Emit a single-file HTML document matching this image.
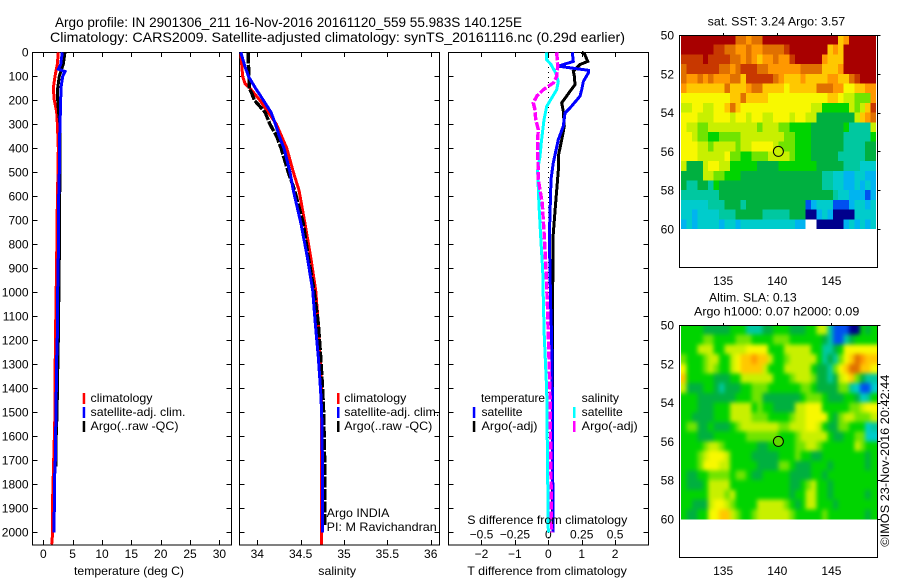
<!DOCTYPE html>
<html lang="en">
<head>
<meta charset="utf-8">
<title>Argo profile IN 2901306_211</title>
<style>
html,body{margin:0;padding:0;background:#fff;}
svg{display:block;}
text{font-family:"Liberation Sans",sans-serif;font-size:12px;fill:#000;}
.title{font-size:14px;}
</style>
</head>
<body>
<svg id="chart" xmlns="http://www.w3.org/2000/svg" width="900" height="580" viewBox="0 0 900 580">
  <defs>
    <filter id="sla-smooth" filterUnits="userSpaceOnUse" x="660" y="300" width="240" height="240" color-interpolation-filters="sRGB">
      <feGaussianBlur stdDeviation="2.2"/>
    </filter>
    <clipPath id="sla-clip"><rect x="681" y="325" width="196" height="194.5"/></clipPath>
  </defs>
  <rect x="0" y="0" width="900" height="580" fill="#fff"/>
  <text class="title" x="55" y="27" textLength="467" lengthAdjust="spacingAndGlyphs">Argo profile: IN 2901306_211 16-Nov-2016 20161120_559 55.983S 140.125E</text>
  <text class="title" x="50" y="42" textLength="575" lengthAdjust="spacingAndGlyphs">Climatology: CARS2009. Satellite-adjusted climatology: synTS_20161116.nc (0.29d earlier)</text>

  <g id="p1"></g>
  <g id="p2"></g>
  <g id="p3"></g>
  <g id="m1"></g>
  <g id="m2"></g>

  <g>
    <rect x="82.7" y="393" width="2.5" height="11" fill="#f00"/>
    <text x="90.5" y="402" textLength="62" lengthAdjust="spacingAndGlyphs">climatology</text>
    <rect x="82.7" y="407" width="2.5" height="11" fill="#00f"/>
    <text x="90.5" y="416" textLength="95" lengthAdjust="spacingAndGlyphs">satellite-adj. clim.</text>
    <rect x="82.7" y="421" width="2.5" height="11" fill="#000"/>
    <text x="90.5" y="430" textLength="88" lengthAdjust="spacingAndGlyphs">Argo(..raw -QC)</text>
  </g>
  <g>
    <rect x="337" y="393" width="2.5" height="11" fill="#f00"/>
    <text x="344.3" y="402" textLength="62" lengthAdjust="spacingAndGlyphs">climatology</text>
    <rect x="337" y="407" width="2.5" height="11" fill="#00f"/>
    <text x="344.3" y="416" textLength="95" lengthAdjust="spacingAndGlyphs">satellite-adj. clim.</text>
    <rect x="337" y="421" width="2.5" height="11" fill="#000"/>
    <text x="344.3" y="430" textLength="88" lengthAdjust="spacingAndGlyphs">Argo(..raw -QC)</text>
    <text x="326.7" y="517" textLength="62.7" lengthAdjust="spacingAndGlyphs">Argo INDIA</text>
    <text x="326.7" y="531" textLength="110" lengthAdjust="spacingAndGlyphs">PI: M Ravichandran</text>
  </g>
  <g>
    <text x="481" y="402" textLength="64" lengthAdjust="spacingAndGlyphs">temperature</text>
    <rect x="472.8" y="407" width="2.5" height="11" fill="#00f"/>
    <text x="481.5" y="416" textLength="41" lengthAdjust="spacingAndGlyphs">satellite</text>
    <rect x="472.8" y="421" width="2.5" height="11" fill="#000"/>
    <text x="481.5" y="430" textLength="56" lengthAdjust="spacingAndGlyphs">Argo(-adj)</text>
    <text x="581.7" y="402" textLength="37.3" lengthAdjust="spacingAndGlyphs">salinity</text>
    <rect x="573" y="407" width="2.5" height="11" fill="#0ff"/>
    <text x="581.7" y="416" textLength="41" lengthAdjust="spacingAndGlyphs">satellite</text>
    <rect x="573" y="421" width="2.5" height="11" fill="#f0f"/>
    <text x="581.7" y="430" textLength="56" lengthAdjust="spacingAndGlyphs">Argo(-adj)</text>
  </g>

  <text x="74" y="575" textLength="110" lengthAdjust="spacingAndGlyphs">temperature (deg C)</text>
  <text x="318.3" y="575" textLength="37.7" lengthAdjust="spacingAndGlyphs">salinity</text>
  <text x="467.3" y="575" textLength="159.5" lengthAdjust="spacingAndGlyphs">T difference from climatology</text>
  <text x="467.3" y="524" textLength="160" lengthAdjust="spacingAndGlyphs">S difference from climatology</text>

  <text x="707.7" y="25.5" textLength="137.5" lengthAdjust="spacingAndGlyphs">sat. SST: 3.24  Argo: 3.57</text>
  <text x="709" y="301.5" textLength="87.7" lengthAdjust="spacingAndGlyphs">Altim. SLA: 0.13</text>
  <text x="694" y="315.5" textLength="165.3" lengthAdjust="spacingAndGlyphs">Argo h1000: 0.07 h2000: 0.09</text>
  <text transform="translate(889,546.7) rotate(-90)" x="0" y="0" textLength="172" lengthAdjust="spacingAndGlyphs">©IMOS 23-Nov-2016 20:42:44</text>
</svg>

<script>
// ---- depth ticks ----
const depthTicks = [0,100,200,300,400,500,600,700,800,900,1000,1100,1200,1300,1400,1500,1600,1700,1800,1900,2000];
// ---- x-axis ticks ----
const tempTicks = [0,5,10,15,20,25,30];
const salTicks = [34,34.5,35,35.5,36];
const salTickLabels = ['34','34.5','35','35.5','36'];
const tDiffTicks = [-2,-1,0,1,2];
const tDiffTickLabels = ['\u22122','\u22121','0','1','2'];
const sDiffTicks = [-0.5,-0.25,0,0.25,0.5];
const sDiffTickLabels = ['\u22120.5','\u22120.25','0','0.25','0.5'];
const lonTicks = [135,140,145];
const latTicks = [50,52,54,56,58,60];

// ---- temperature profiles ----
const tempClimDepth = [0,50,100,150,200,250,300,400,500,600,850,1240,1500,1700,1850,2000,2050];
const tempClimValue = [2.55,2.39,2.0,1.7,1.87,2.28,2.4,2.55,2.5,2.4,2.28,2.05,2.0,1.77,1.6,1.6,1.43];
const tempSatDepth = [0,50,70,80,100,150,200,300,400,500,600,850,990,1130,1270,1400,1500,1600,1700,1800,1900,2000];
const tempSatValue = [3.24,2.96,2.55,3.7,3.3,3.0,2.96,2.85,2.73,2.73,2.62,2.56,2.45,2.45,2.28,2.22,2.16,2.1,2.05,1.88,1.88,1.82];
const tempArgoDepth = [0,50,100,150,200,250,300,400,500,600,850,1200,1400,1500,1600,1725];
const tempArgoValue = [3.7,3.4,2.73,2.45,2.45,2.6,2.85,2.85,2.85,2.8,2.73,2.56,2.4,2.35,2.2,2.16];

// ---- salinity profiles ----
const salClimDepth = [0,50,100,130,150,200,250,300,350,400,500,575,714,853,992,1130,1408,2050];
const salClimValue = [33.81,33.82,33.83,33.858,33.916,34.03,34.127,34.22,34.28,34.34,34.416,34.481,34.55,34.616,34.674,34.704,34.743,34.742];
const salArgoDepth = [0,50,100,150,170,200,250,300,350,400,500,575,714,853,992,1130,1270,1408,1505,1710,1970];
const salArgoValue = [33.897,33.897,33.905,33.905,33.935,33.966,34.09,34.147,34.224,34.274,34.358,34.43,34.53,34.588,34.654,34.704,34.731,34.754,34.766,34.777,34.78];
const salSatDepth = [0,50,100,150,200,250,300,350,400,500,575,714,853,992,1130,1270,1408,1505,1780,2000];
const salSatValue = [33.81,33.85,33.897,33.98,34.07,34.158,34.21,34.254,34.308,34.377,34.415,34.504,34.577,34.639,34.669,34.704,34.73,34.743,34.754,34.754];

// ---- temperature differences ----
const dTArgoDepth = [0,6,38,51,79,100,135,163,211,246,308,364,433,492,631,770,908,1047,1400,1950];
const dTArgoValue = [1.0,1.08,1.18,0.95,0.75,0.78,0.8,0.65,0.4,0.45,0.48,0.4,0.3,0.3,0.22,0.14,0.14,0.12,0.13,0.13];
const dTSatDepth = [0,38,58,75,86,121,156,183,232,253,308,364,460,530,631,770,908,1047,1186,1409,2000];
const dTSatValue = [0.72,0.75,0.3,1.2,1.2,1.05,1.0,0.95,0.65,0.5,0.45,0.3,0.15,0.08,0.06,0.03,0.05,0.07,0.10,0.12,0.14];

// ---- salinity differences ----
const dSArgoDepth = [0,58,100,128,156,183,211,239,281,322,364,530,631,770,908,1047,1186,1409,2000];
const dSArgoValue = [0.0626,0.07,0.0626,0.0377,-0.0372,-0.087,-0.112,-0.0996,-0.0945,-0.0746,-0.08,-0.0746,-0.045,-0.03,-0.017,-0.007,0,0.013,0.025];
const dSSatDepth = [0,31,51,86,121,156,191,225,281,364,433,492,631,770,908,1047,1186,1409,2000];
const dSSatValue = [-0.012,-0.012,0.02,0.055,0.075,0.0626,0.025,-0.012,-0.032,-0.05,-0.062,-0.08,-0.07,-0.057,-0.042,-0.037,-0.03,-0.012,0];

// ---- map grids: one letter per 0.5 deg cell, a (cold/low) to o (warm/high) ----
const mapLevels = {
  a:'#00008c', b:'#0050f0', c:'#00b4f0', d:'#00cccc', e:'#00c8a0',
  f:'#00b040', g:'#00d400', h:'#70e400', i:'#c8f000', j:'#f8f800',
  k:'#ffc800', l:'#ff9800', m:'#e07000', n:'#c83800', o:'#a80000'
};
const sstGrid = [
"oooooooooommlmmooooooooooooookloooooo",
"oooooonnmmllmllmmmmnoooooooklkoooooo",
"nnnnonnnnmmlmlkllmllnooooolkkkoooooo",
"mnnnnnnmmlmnnnmmllllllmmmmkkkloooooo",
"mllmlmlllmmknnnnnmlkkklkkkkllkkmnooo",
"lkkkkkkkmkkklmmkkkkjkkkkkmmmlljjkkll",
"jjjjjjjjjkkmkkkkjjjjjjjjjjjkkjiihhhl",
"iijjiijjkmkjjjjjjjjjjjjjiigggggihikn",
"jjjiiijjjijjijjiijjjijjiifffffffiklm",
"jiihhiiiiiiiiihiiihhggggffffffgeeeei",
"jjihhgghhhhiiiiiiiihhgggffffffeeeeeg",
"jjjiihiiiihiijjjjihhhgggffffffeeeeff",
"jjjiiiiijhhgghhhiiiihgggfffffeeeeeff",
"ifffijjiigggggffffgggggggfffffeeeddd",
"ffffiihhgggfffffffffffffffeeddccddcc",
"feeffegfffffffffffffffffffeeddccdcdc",
"eeeeeeefffffffffffffffffffffeddcccbc",
"dddddeeefffefffffffffffbcdddbbbcddcd",
"ddcddddeeefffffeeeeefffaacdcaaaadddd",
"cdcddddcddcddddddddddcc  aaaaacdcdcd"
];
const slaGrid = [
"ggggfffffgggeeeffgggfffggiiebbbaagfg",
"gggghhgggghhhgggghhhggggggfebbefgggg",
"gggiiiggiiiijjjjgggiiiiiggeefgjjjjjj",
"hggghiiggijkklkkigghiiiiigefehjkmlkk",
"jggghihggijkkkkigggiiiiigffehjkmmkkj",
"kgggggfffggiiiiiiggghiiihffefijkhfee",
"ifffggfefffgghhhgggggghhgffffhhedbbd",
"gggfffffffggghhfffffffghhhgfffggfdeg",
"gggfffgggiiiighggffffiijjjggggghhijj",
"ggffffgggiiiihhhgggghiijjjjgfhiihhhi",
"ghhffgfffghiiiiiiihhiiijjigffhhgggde",
"gggfffgggggghhhhhhggghiiiiigffgghhdd",
"gggghiihggggggffggggghhiihggggggihgg",
"ggghijjjiggggfffffggghggffggggggggfg",
"ggghjjjiigggggffffhhgfffgggfggggggfg",
"gffgghhhhghhgffgggggffffggfggggggggg",
"gfffgiiiigggggggggggffghiggfgggggggg",
"gggggiiihiggggggggggfggiiggfggggggfg",
"ggfffijjihggggiiiiihgfgiigggfggggggg",
"gffggjjkkihgghiiiiiihggggghgggggggfg"
];
const argoLon = [140.1];
const argoLat = [56.0];

// ---- axis functions ----
const NS = 'http://www.w3.org/2000/svg';
const panelTop = 52, panelBottom = 545;
const yDepth = d => 52.3 + d * 0.24;
const xTemp = t => 43.3 + t * 5.87;
const xSal = s => 257.3 + (s - 34) * 86.7;
const xDT = v => 548.3 + v * 33.4;
const xDS = v => 548.3 + v * 133.6;
const xLon = lon => 777.3 + (lon - 140) * 10.83;
const yLat1 = lat => 35 + (lat - 50) * 19.4;
const yLat2 = lat => 325 + (lat - 50) * 19.4;

function make(tag, parent) {
  const el = document.createElementNS(NS, tag);
  parent.appendChild(el);
  return el;
}
function line(parent, x1, y1, x2, y2, name) {
  const el = make('line', parent);
  
  
  el.setAttribute('x1', x1); el.setAttribute('y1', y1);
  el.setAttribute('x2', x2); el.setAttribute('y2', y2);
  el.setAttribute('stroke', '#000');
  el.setAttribute('stroke-width', '1');
  el.setAttribute('shape-rendering', 'crispEdges');
  return el;
}
function label(parent, x, y, str, anchor, name) {
  const el = make('text', parent);
  
  
  el.setAttribute('x', x); el.setAttribute('y', y);
  el.setAttribute('text-anchor', anchor);
  el.textContent = str;
  return el;
}
function frame(parent, left, right, top, bottom) {
  const el = make('rect', parent);
  
  
  el.setAttribute('x', left); el.setAttribute('y', top);
  el.setAttribute('width', right - left); el.setAttribute('height', bottom - top);
  el.setAttribute('fill', 'none');
  el.setAttribute('stroke', '#000');
  el.setAttribute('stroke-width', '1');
  el.setAttribute('shape-rendering', 'crispEdges');
}
function series(parent, depths, values, xf, color, width, dash, name) {
  const el = make('polyline', parent);
  
  
  el.setAttribute('points', depths.map((d, i) => xf(values[i]).toFixed(1) + ',' + yDepth(d).toFixed(1)).join(' '));
  el.setAttribute('fill', 'none');
  el.setAttribute('stroke', color);
  el.setAttribute('stroke-width', width);
  el.setAttribute('shape-rendering', 'crispEdges');
  if (dash) el.setAttribute('stroke-dasharray', dash);
}
function panelAxes(parent, left, right, xticks, xf, xlabels, showDepth) {
  frame(parent, left, right, panelTop + 0.5, panelBottom);
  depthTicks.forEach(d => {
    const y = Math.round(yDepth(d)) + 0.5;
    line(parent, left, y, left + 5, y, 'y-tick-left');
    line(parent, right - 5, y, right, y, 'y-tick-right');
    if (showDepth) label(parent, 28.5, y + 4, String(d), 'end', 'depth-tick-label');
  });
  xticks.forEach((t, i) => {
    const x = Math.round(xf(t)) + 0.5;
    line(parent, x, panelTop, x, panelTop + 5, 'x-tick-top');
    line(parent, x, panelBottom - 5, x, panelBottom, 'x-tick-bottom');
    label(parent, xf(t), 558, xlabels[i], 'middle', 'x-tick-label');
  });
}

// ---- temperature panel ----
const p1 = document.getElementById('p1');
panelAxes(p1, 32.5, 231.5, tempTicks, xTemp, tempTicks.map(String), true);
series(p1, tempClimDepth, tempClimValue, xTemp, '#f00', 3, null, 'temperature-climatology-line');
series(p1, tempArgoDepth, tempArgoValue, xTemp, '#000', 3, null, 'temperature-argo-line');
series(p1, tempSatDepth, tempSatValue, xTemp, '#00f', 3, null, 'temperature-satellite-line');

// ---- salinity panel ----
const p2 = document.getElementById('p2');
panelAxes(p2, 239.5, 439.5, salTicks, xSal, salTickLabels, false);
series(p2, salClimDepth, salClimValue, xSal, '#f00', 3, null, 'salinity-climatology-line');
series(p2, salArgoDepth, salArgoValue, xSal, '#000', 3.4, '11 1.5', 'salinity-argo-line');
series(p2, salSatDepth, salSatValue, xSal, '#00f', 3, null, 'salinity-satellite-line');

// ---- difference panel ----
const p3 = document.getElementById('p3');
panelAxes(p3, 448.5, 648.5, tDiffTicks, xDT, tDiffTickLabels, false);
sDiffTicks.forEach((t, i) => {
  label(p3, xDS(t), 538.5, sDiffTickLabels[i], 'middle', 's-difference-tick-label');
});
const zero = line(p3, xDT(0), panelTop, xDT(0), panelBottom, 'zero-difference-line');
zero.setAttribute('stroke-dasharray', '1 4');
series(p3, dTArgoDepth, dTArgoValue, xDT, '#000', 3, null, 't-difference-argo-line');
series(p3, dTSatDepth, dTSatValue, xDT, '#00f', 3, null, 't-difference-satellite-line');
series(p3, dSSatDepth, dSSatValue, xDS, '#0ff', 3, null, 's-difference-satellite-line');
series(p3, dSArgoDepth, dSArgoValue, xDS, '#f0f', 3.4, '8 2', 's-difference-argo-line');

// ---- maps ----
function drawMap(parent, grid, yLat, top, bottom, labelBaseline, markerFill, prefix, smooth) {
  const cols = 36, rows = grid.length;
  const cw = 0.5 * 10.83;
  let holder = parent;
  if (smooth) {
    const clip = make('g', parent);
    clip.setAttribute('clip-path', 'url(#sla-clip)');
    holder = make('g', clip);
    holder.setAttribute('filter', 'url(#sla-smooth)');
  }
  // Cells on the outer edge are extended when smoothing, so the blur does not fade at the border.
  const pad = smooth ? 10 : 0;
  for (let r = 0; r < rows; r++) {
    for (let c = 0; c < cols; c++) {
      const key = grid[r][c];
      if (!mapLevels[key]) continue;
      const cell = make('rect', holder);
      
      
      const lon = 131.12 + c * 0.5;
      const lat = 50 + r * 0.5;
      const padL = c === 0 ? pad : 0, padR = c === cols - 1 ? pad : 0;
      const padT = r === 0 ? pad : 0, padB = r === rows - 1 ? pad : 0;
      cell.setAttribute('x', (xLon(lon) - padL).toFixed(2));
      cell.setAttribute('y', (yLat(lat) - padT).toFixed(2));
      cell.setAttribute('width', (cw + padL + padR).toFixed(2));
      cell.setAttribute('height', (yLat(lat + 0.5) - yLat(lat) + padT + padB).toFixed(2));
      cell.setAttribute('fill', mapLevels[key]);
      cell.setAttribute('shape-rendering', 'crispEdges');
    }
  }
  frame(parent, 679.5, 877.5, top + 0.5, bottom + 0.5);
  latTicks.forEach(l => {
    const y = Math.round(yLat(l)) + 0.5;
    line(parent, 877.5, y, 880.5, y, 'lat-tick');
    label(parent, 674, yLat(l) + 4.5, String(l), 'end', 'lat-tick-label');
  });
  lonTicks.forEach(l => {
    const x = Math.round(xLon(l)) + 0.5;
    line(parent, x, top - 2, x, top, 'lon-tick');
    label(parent, xLon(l), labelBaseline, String(l), 'middle', 'lon-tick-label');
  });
  const m = make('circle', parent);
  
  
  m.setAttribute('cx', xLon(argoLon[0]));
  m.setAttribute('cy', yLat(argoLat[0]));
  m.setAttribute('r', '5');
  m.setAttribute('fill', markerFill);
  m.setAttribute('stroke', '#000');
  m.setAttribute('stroke-width', '1');
}
drawMap(document.getElementById('m1'), sstGrid, yLat1, 35, 267, 285, mapLevels.i, 'sst-map', false);
drawMap(document.getElementById('m2'), slaGrid, yLat2, 325, 557, 575, '#60d800', 'sla-map', true);
</script>
</body>
</html>
